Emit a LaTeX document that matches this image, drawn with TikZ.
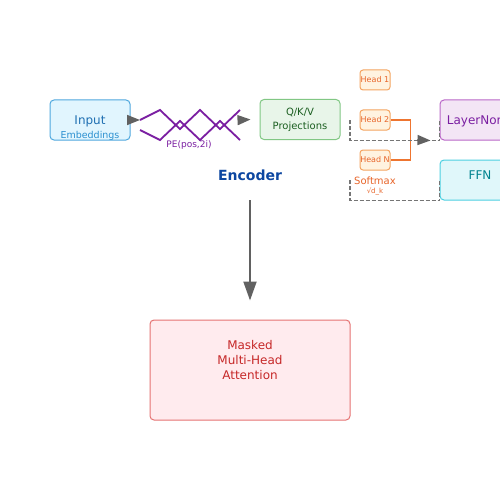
\documentclass[tikz,border=0pt]{standalone}
\usepackage{fontspec}
\setmainfont{DejaVu Sans}
\usetikzlibrary{arrows.meta,positioning}
\definecolor{inputfill}{HTML}{E1F5FE}
\definecolor{inputdraw}{HTML}{4FA8DE}
\definecolor{inputtext}{HTML}{1F6FB2}
\definecolor{embtext}{HTML}{2A8FD0}
\definecolor{qkvfill}{HTML}{E8F5E9}
\definecolor{qkvdraw}{HTML}{81C784}
\definecolor{qkvtext}{HTML}{1B5E20}
\definecolor{maskfill}{HTML}{FFEBEE}
\definecolor{maskdraw}{HTML}{E57373}
\definecolor{masktext}{HTML}{C62828}
\definecolor{headfill}{HTML}{FFF3E0}
\definecolor{headdraw}{HTML}{F4A460}
\definecolor{headtext}{HTML}{E8652A}
\definecolor{bracket}{HTML}{EE7530}
\definecolor{lnfill}{HTML}{F3E5F5}
\definecolor{lndraw}{HTML}{BA68C8}
\definecolor{lntext}{HTML}{7B1FA2}
\definecolor{ffnfill}{HTML}{E0F7FA}
\definecolor{ffndraw}{HTML}{4DD0E1}
\definecolor{ffntext}{HTML}{00838F}
\definecolor{pepurple}{HTML}{7B1FA2}
\definecolor{encblue}{HTML}{0D47A1}
\definecolor{arrowgray}{HTML}{616161}
\definecolor{dashgray}{HTML}{757575}
\tikzstyle{block}     = [rectangle, rounded corners=4pt, minimum width=80pt, minimum height=40pt, inner sep=0pt, line width=1pt, align=center, font=\fontsize{12}{15}\selectfont]
\tikzstyle{headbox}   = [rectangle, rounded corners=3pt, minimum width=30pt, minimum height=20pt, inner sep=0pt, line width=1pt, draw=headdraw, fill=headfill, text=headtext, font=\fontsize{8}{9}\selectfont]
\tikzstyle{arrow}     = [line width=1.5pt, draw=arrowgray, -{Triangle[length=13pt,width=10pt]}]
\tikzstyle{bigarrow}  = [line width=2pt, draw=arrowgray, -{Triangle[length=19pt,width=13pt]}]
\tikzstyle{dashline}  = [line width=1.5pt, draw=dashgray, dash pattern=on 4pt off 2pt]
\tikzstyle{wave}      = [line width=1.8pt, draw=pepurple]

\begin{document}
\begin{tikzpicture}[x=1pt, y=-1pt]
		\clip (0,0) rectangle (500,500);
		\path[use as bounding box, fill=white] (0,0) rectangle (500,500);

		\node[block, draw=inputdraw, fill=inputfill, text=inputtext, text height=8.8pt, text depth=0pt] (input) at (90,120) {Input};
		\node[font=\fontsize{9.5}{11}\selectfont, text=embtext] (inemb) at (90,136) {Embeddings};

		\node[block, draw=qkvdraw, fill=qkvfill, text=qkvtext, font=\fontsize{10}{14}\selectfont] (qkv) at (300,119.5) {Q/K/V\\Projections};

		\node[font=\bfseries\fontsize{14}{16}\selectfont, text=encblue] (enc) at (250,175) {Encoder};

		\node[block, minimum width=200pt, minimum height=100pt, draw=maskdraw, fill=maskfill] (mask) at (250,370) {};
		\node[font=\fontsize{12}{15}\selectfont, text=masktext, align=center] (masklbl) at (250,360) {Masked\\Multi-Head\\Attention};

		\node[headbox] (h1) at (375,80) {Head 1};
		\node[headbox] (h2) at (375,120) {Head 2};
		\node[headbox] (hN) at (375,160) {Head N};

		\node[font=\fontsize{10}{12}\selectfont, text=headtext] (soft) at (375,181) {Softmax};
		\node[font=\fontsize{7}{8}\selectfont, text=headtext] (sqrt) at (375,191.5) {√d\_k};

		\node[block, draw=lndraw, fill=lnfill, text=lntext, text height=8.8pt, text depth=0pt] (ln) at (480,120) {LayerNorm};
		\node[block, draw=ffndraw, fill=ffnfill] (ffn) at (480,180) {};
		\node[font=\fontsize{12}{15}\selectfont, text=ffntext] (ffnlbl) at (480,175.5) {FFN};

		% positional encoding waves
		\draw[wave] (140,120) -- (160,110) -- (180,129) -- (200,110) -- (220,129) -- (240,110);
		\draw[wave] (140,130) -- (160,140) -- (180,121) -- (200,140) -- (220,121) -- (240,140);
		\node[font=\fontsize{9}{11}\selectfont, text=pepurple] (pe) at (189,145.5) {PE(pos,2i)};

		\coordinate (peend) at (240,120);
		\coordinate (pestart) at (140,120);
		\coordinate (qout) at (350,120);
		\coordinate (smout) at (350,180);
		\coordinate (headsum) at (417,140);
		\coordinate (encout) at (250,200);

		\draw[line width=1.5pt, draw=bracket] (h2.east) -- ++(20,0) |- (hN.east);

		\draw[dashline] (qout) |- (ln.south west) -- (ln.west);
		\draw[dashline] (smout) |- (ffn.south west) -- (ffn.west);

		\draw[arrow] (input.east) -- (pestart);
		\draw[arrow] (peend) -- ([xshift=-9pt]qkv.west);
		\draw[arrow] (headsum) -- ([xshift=-9pt]ln.south west);
		\draw[bigarrow] (encout) -- ([yshift=19pt]mask.north);
	\end{tikzpicture}
\end{document}
